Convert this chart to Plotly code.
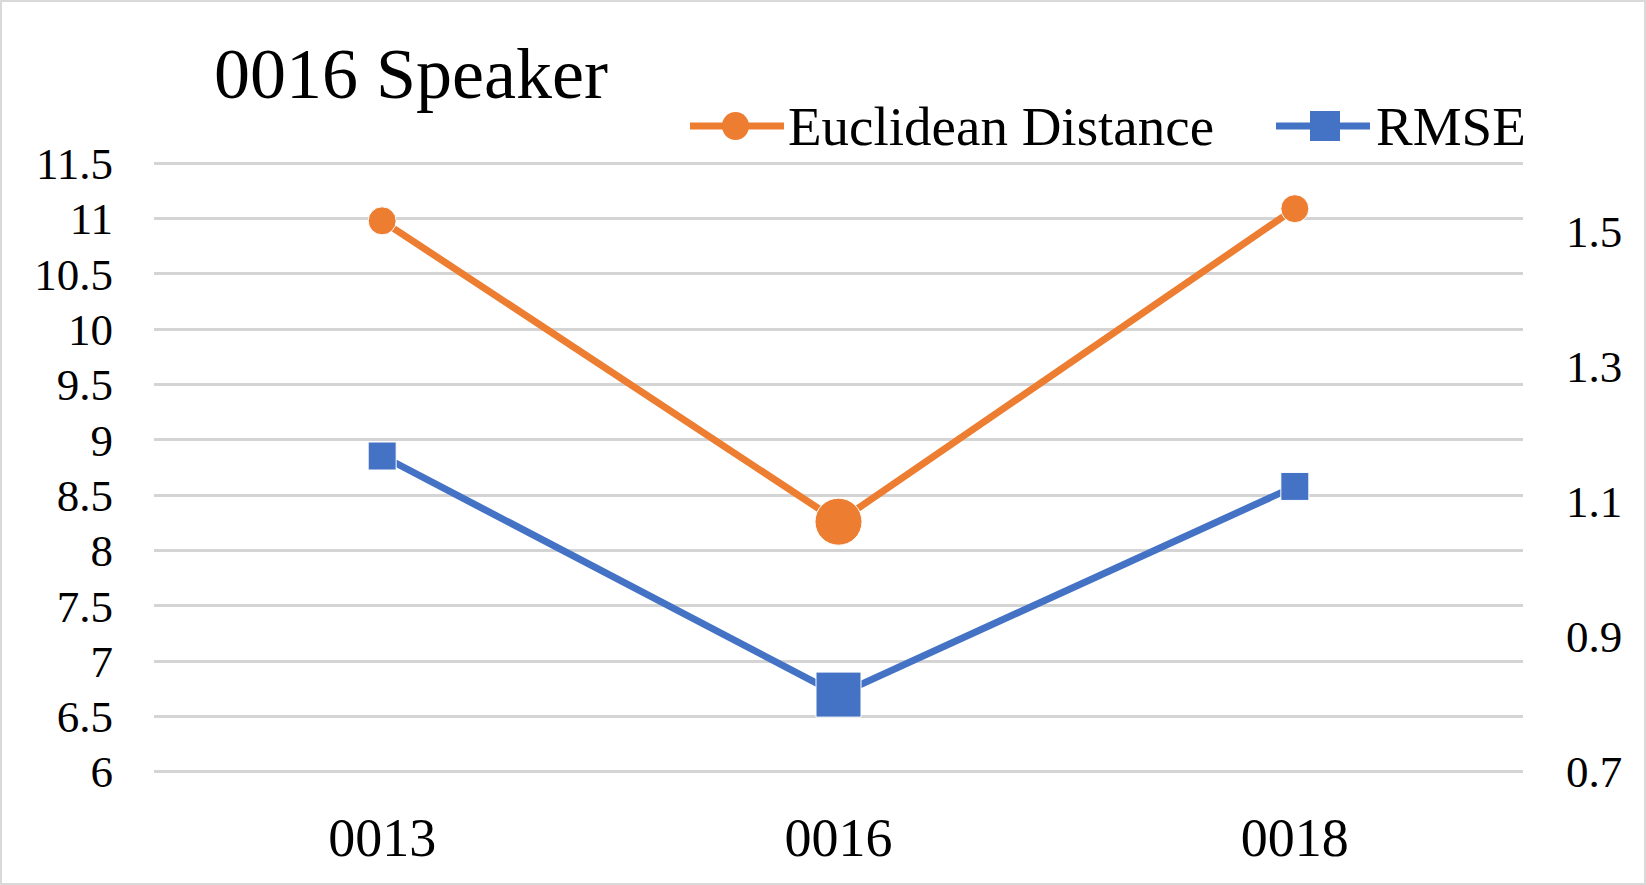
import plotly.graph_objects as go

# data
speakers = ["0013", "0016", "0018"]
euclidean = [10.98, 8.26, 11.09]
rmse = [1.167, 0.814, 1.122]

left_ticks = [6, 6.5, 7, 7.5, 8, 8.5, 9, 9.5, 10, 10.5, 11, 11.5]
left_labels = ["6", "6.5", "7", "7.5", "8", "8.5", "9", "9.5", "10", "10.5", "11", "11.5"]
right_ticks = [0.7, 0.9, 1.1, 1.3, 1.5]
right_labels = ["0.7", "0.9", "1.1", "1.3", "1.5"]

W, H = 1646, 885
ML, MR, MT, MB = 154, 123, 162, 112
PW, PH = W - ML - MR, H - MT - MB

ORANGE = "#ED7D31"
BLUE = "#4472C4"
GRID = "#D4D4D4"
FONT = "Liberation Serif"


def px(x):
    return (x - ML) / PW


def py(y):
    return 1 - (y - MT) / PH


fig = go.Figure()

fig.add_scatter(
    x=speakers, y=euclidean,
    mode="lines+markers",
    name="Euclidean Distance",
    line=dict(color=ORANGE, width=7),
    marker=dict(symbol="circle", size=[28, 47, 28], color=ORANGE, opacity=1),
)

fig.add_scatter(
    x=speakers, y=rmse,
    mode="lines+markers",
    name="RMSE",
    yaxis="y2",
    line=dict(color=BLUE, width=7),
    marker=dict(symbol="square", size=[28, 45, 28], color=BLUE, opacity=1),
)

# hand-made legend so the symbols are as long as in the original
shapes = [
    dict(type="line", xref="paper", yref="paper", x0=px(690), x1=px(784), y0=py(126), y1=py(126),
         line=dict(color=ORANGE, width=7)),
    dict(type="circle", xref="paper", yref="paper", x0=px(722), x1=px(749), y0=py(112), y1=py(140),
         fillcolor=ORANGE, line=dict(width=0)),
    dict(type="line", xref="paper", yref="paper", x0=px(1276), x1=px(1370), y0=py(126), y1=py(126),
         line=dict(color=BLUE, width=7)),
    dict(type="rect", xref="paper", yref="paper", x0=px(1310), x1=px(1340), y0=py(111), y1=py(141),
         fillcolor=BLUE, line=dict(width=0)),
    # outer chart border
    dict(type="rect", xref="paper", yref="paper", x0=px(1), x1=px(W - 1), y0=py(1), y1=py(H - 1),
         line=dict(color="#D9D9D9", width=2)),
]

annotations = [
    dict(text="Euclidean Distance", xref="paper", yref="paper", x=px(786), y=py(126),
         xanchor="left", yanchor="middle", showarrow=False,
         font=dict(family=FONT, size=55, color="black")),
    dict(text="RMSE", xref="paper", yref="paper", x=px(1374), y=py(126),
         xanchor="left", yanchor="middle", showarrow=False,
         font=dict(family=FONT, size=55, color="black")),
]

fig.update_layout(
    width=W, height=H,
    margin=dict(l=ML, r=MR, t=MT, b=MB),
    paper_bgcolor="white",
    plot_bgcolor="white",
    showlegend=False,
    font=dict(family=FONT, color="black"),
    title=dict(
        text="0016 Speaker",
        font=dict(family=FONT, size=72, color="black"),
        x=214 / W, xanchor="left",
        y=1 - 48 / H, yanchor="top",
    ),
    xaxis=dict(
        type="category", range=[-0.5, 2.5],
        showgrid=False, showline=False, zeroline=False,
        tickfont=dict(size=54), ticks="", ticklabelstandoff=28,
    ),
    yaxis=dict(
        range=[5.988, 11.512], tickvals=left_ticks, ticktext=left_labels,
        showgrid=True, gridcolor=GRID, gridwidth=2.5,
        zeroline=False, showline=False,
        tickfont=dict(size=45), ticklabelstandoff=40,
    ),
    yaxis2=dict(
        range=[0.698, 1.602], tickvals=right_ticks, ticktext=right_labels,
        overlaying="y", side="right",
        showgrid=False, zeroline=False, showline=False,
        tickfont=dict(size=45), ticklabelstandoff=42,
    ),
    shapes=shapes,
    annotations=annotations,
)

fig.write_html("out.html", config={"displayModeBar": False},
               post_script="document.body.style.margin = '0';")
